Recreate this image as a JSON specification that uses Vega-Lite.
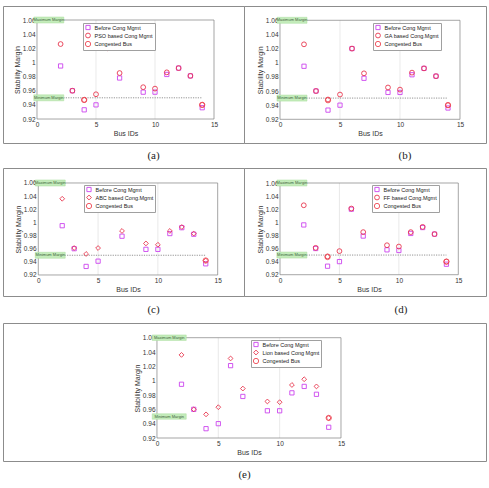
{
  "$schema": "https://vega.github.io/schema/vega-lite/v6.json",
  "padding": {"left": 2, "top": 5, "right": 0, "bottom": 0},
  "background": "white",
  "title": {"text": "IEEE 14 bus system", "orient": "bottom", "anchor": "start", "font": "Liberation Serif", "fontSize": 9, "fontWeight": "normal", "color": "#222", "offset": 2, "dx": 5},
  "config": {
    "view": {"stroke": "#8c8c8c", "strokeWidth": 1},
    "font": "Liberation Sans",
    "axis": {"domain": false, "ticks": false, "grid": false, "labelFontSize": 6.5, "titleFontSize": 7, "labelColor": "#333", "titleColor": "#333", "titleFontWeight": "normal", "labelOverlap": false, "labelFlush": false, "labelPadding": 2, "titlePadding": 2},
    "legend": {"strokeColor": "#a0a0a0", "fillColor": "#ffffff", "padding": 1.5, "labelFontSize": 5.5, "labelColor": "#222", "rowPadding": -1, "symbolStrokeWidth": 0.9, "labelOffset": 3},
    "concat": {"spacing": 0}
  },
  "datasets": {
    "grid": [{"bus": 5, "margin": 0.92, "margin2": 1.06}, {"bus": 10, "margin": 0.92, "margin2": 1.06}],
    "frame": [{"bus": 0, "bus2": 15, "margin": 0.92, "margin2": 1.06}],
    "minline": [{"bus": 0, "bus2": 14, "margin": 0.95}],
    "tags": [{"bus": 1, "margin": 1.06, "label": "Maximum Margin"}, {"bus": 1, "margin": 0.95, "label": "Minimum Margin"}],
    "a": [
      {"bus": 2, "margin": 0.995, "series": "Before Cong Mgmt"}, {"bus": 3, "margin": 0.96, "series": "Before Cong Mgmt"}, {"bus": 4, "margin": 0.933, "series": "Before Cong Mgmt"}, {"bus": 5, "margin": 0.94, "series": "Before Cong Mgmt"}, {"bus": 6, "margin": 1.02, "series": "Before Cong Mgmt"}, {"bus": 7, "margin": 0.978, "series": "Before Cong Mgmt"}, {"bus": 9, "margin": 0.958, "series": "Before Cong Mgmt"}, {"bus": 10, "margin": 0.958, "series": "Before Cong Mgmt"}, {"bus": 11, "margin": 0.983, "series": "Before Cong Mgmt"}, {"bus": 12, "margin": 0.992, "series": "Before Cong Mgmt"}, {"bus": 13, "margin": 0.981, "series": "Before Cong Mgmt"}, {"bus": 14, "margin": 0.936, "series": "Before Cong Mgmt"},
      {"bus": 2, "margin": 1.026, "series": "PSO based Cong Mgmt"}, {"bus": 3, "margin": 0.96, "series": "PSO based Cong Mgmt"}, {"bus": 4, "margin": 0.947, "series": "PSO based Cong Mgmt"}, {"bus": 5, "margin": 0.955, "series": "PSO based Cong Mgmt"}, {"bus": 6, "margin": 1.02, "series": "PSO based Cong Mgmt"}, {"bus": 7, "margin": 0.985, "series": "PSO based Cong Mgmt"}, {"bus": 9, "margin": 0.965, "series": "PSO based Cong Mgmt"}, {"bus": 10, "margin": 0.963, "series": "PSO based Cong Mgmt"}, {"bus": 11, "margin": 0.986, "series": "PSO based Cong Mgmt"}, {"bus": 12, "margin": 0.992, "series": "PSO based Cong Mgmt"}, {"bus": 13, "margin": 0.981, "series": "PSO based Cong Mgmt"}, {"bus": 14, "margin": 0.94, "series": "PSO based Cong Mgmt"},
      {"bus": 4, "margin": 0.947, "series": "Congested Bus"}, {"bus": 14, "margin": 0.94, "series": "Congested Bus"}
    ],
    "b": [
      {"bus": 2, "margin": 0.995, "series": "Before Cong Mgmt"}, {"bus": 3, "margin": 0.96, "series": "Before Cong Mgmt"}, {"bus": 4, "margin": 0.933, "series": "Before Cong Mgmt"}, {"bus": 5, "margin": 0.94, "series": "Before Cong Mgmt"}, {"bus": 6, "margin": 1.02, "series": "Before Cong Mgmt"}, {"bus": 7, "margin": 0.978, "series": "Before Cong Mgmt"}, {"bus": 9, "margin": 0.958, "series": "Before Cong Mgmt"}, {"bus": 10, "margin": 0.958, "series": "Before Cong Mgmt"}, {"bus": 11, "margin": 0.983, "series": "Before Cong Mgmt"}, {"bus": 12, "margin": 0.992, "series": "Before Cong Mgmt"}, {"bus": 13, "margin": 0.981, "series": "Before Cong Mgmt"}, {"bus": 14, "margin": 0.936, "series": "Before Cong Mgmt"},
      {"bus": 2, "margin": 1.026, "series": "GA based Cong.Mgmt"}, {"bus": 3, "margin": 0.96, "series": "GA based Cong.Mgmt"}, {"bus": 4, "margin": 0.948, "series": "GA based Cong.Mgmt"}, {"bus": 5, "margin": 0.955, "series": "GA based Cong.Mgmt"}, {"bus": 6, "margin": 1.02, "series": "GA based Cong.Mgmt"}, {"bus": 7, "margin": 0.985, "series": "GA based Cong.Mgmt"}, {"bus": 9, "margin": 0.965, "series": "GA based Cong.Mgmt"}, {"bus": 10, "margin": 0.962, "series": "GA based Cong.Mgmt"}, {"bus": 11, "margin": 0.986, "series": "GA based Cong.Mgmt"}, {"bus": 12, "margin": 0.992, "series": "GA based Cong.Mgmt"}, {"bus": 13, "margin": 0.981, "series": "GA based Cong.Mgmt"}, {"bus": 14, "margin": 0.94, "series": "GA based Cong.Mgmt"},
      {"bus": 4, "margin": 0.947, "series": "Congested Bus"}, {"bus": 14, "margin": 0.94, "series": "Congested Bus"}
    ],
    "c": [
      {"bus": 2, "margin": 0.995, "series": "Before Cong Mgmt"}, {"bus": 3, "margin": 0.96, "series": "Before Cong Mgmt"}, {"bus": 4, "margin": 0.933, "series": "Before Cong Mgmt"}, {"bus": 5, "margin": 0.941, "series": "Before Cong Mgmt"}, {"bus": 6, "margin": 1.02, "series": "Before Cong Mgmt"}, {"bus": 7, "margin": 0.979, "series": "Before Cong Mgmt"}, {"bus": 9, "margin": 0.959, "series": "Before Cong Mgmt"}, {"bus": 10, "margin": 0.959, "series": "Before Cong Mgmt"}, {"bus": 11, "margin": 0.983, "series": "Before Cong Mgmt"}, {"bus": 12, "margin": 0.992, "series": "Before Cong Mgmt"}, {"bus": 13, "margin": 0.982, "series": "Before Cong Mgmt"}, {"bus": 14, "margin": 0.937, "series": "Before Cong Mgmt"},
      {"bus": 2, "margin": 1.036, "series": "ABC based Cong.Mgmt"}, {"bus": 3, "margin": 0.961, "series": "ABC based Cong.Mgmt"}, {"bus": 4, "margin": 0.952, "series": "ABC based Cong.Mgmt"}, {"bus": 5, "margin": 0.961, "series": "ABC based Cong.Mgmt"}, {"bus": 6, "margin": 1.021, "series": "ABC based Cong.Mgmt"}, {"bus": 7, "margin": 0.987, "series": "ABC based Cong.Mgmt"}, {"bus": 9, "margin": 0.968, "series": "ABC based Cong.Mgmt"}, {"bus": 10, "margin": 0.966, "series": "ABC based Cong.Mgmt"}, {"bus": 11, "margin": 0.987, "series": "ABC based Cong.Mgmt"}, {"bus": 12, "margin": 0.993, "series": "ABC based Cong.Mgmt"}, {"bus": 13, "margin": 0.983, "series": "ABC based Cong.Mgmt"}, {"bus": 14, "margin": 0.942, "series": "ABC based Cong.Mgmt"},
      {"bus": 14, "margin": 0.942, "series": "Congested Bus"}
    ],
    "d": [
      {"bus": 2, "margin": 0.996, "series": "Before Cong Mgmt"}, {"bus": 3, "margin": 0.96, "series": "Before Cong Mgmt"}, {"bus": 4, "margin": 0.933, "series": "Before Cong Mgmt"}, {"bus": 5, "margin": 0.94, "series": "Before Cong Mgmt"}, {"bus": 6, "margin": 1.02, "series": "Before Cong Mgmt"}, {"bus": 7, "margin": 0.979, "series": "Before Cong Mgmt"}, {"bus": 9, "margin": 0.958, "series": "Before Cong Mgmt"}, {"bus": 10, "margin": 0.957, "series": "Before Cong Mgmt"}, {"bus": 11, "margin": 0.983, "series": "Before Cong Mgmt"}, {"bus": 12, "margin": 0.992, "series": "Before Cong Mgmt"}, {"bus": 13, "margin": 0.982, "series": "Before Cong Mgmt"}, {"bus": 14, "margin": 0.936, "series": "Before Cong Mgmt"},
      {"bus": 2, "margin": 1.026, "series": "FF based Cong.Mgmt"}, {"bus": 3, "margin": 0.961, "series": "FF based Cong.Mgmt"}, {"bus": 4, "margin": 0.948, "series": "FF based Cong.Mgmt"}, {"bus": 5, "margin": 0.956, "series": "FF based Cong.Mgmt"}, {"bus": 6, "margin": 1.021, "series": "FF based Cong.Mgmt"}, {"bus": 7, "margin": 0.985, "series": "FF based Cong.Mgmt"}, {"bus": 9, "margin": 0.965, "series": "FF based Cong.Mgmt"}, {"bus": 10, "margin": 0.963, "series": "FF based Cong.Mgmt"}, {"bus": 11, "margin": 0.985, "series": "FF based Cong.Mgmt"}, {"bus": 12, "margin": 0.993, "series": "FF based Cong.Mgmt"}, {"bus": 13, "margin": 0.982, "series": "FF based Cong.Mgmt"}, {"bus": 14, "margin": 0.94, "series": "FF based Cong.Mgmt"},
      {"bus": 4, "margin": 0.947, "series": "Congested Bus"}, {"bus": 14, "margin": 0.94, "series": "Congested Bus"}
    ],
    "e": [
      {"bus": 2, "margin": 0.995, "series": "Before Cong Mgmt"}, {"bus": 3, "margin": 0.96, "series": "Before Cong Mgmt"}, {"bus": 4, "margin": 0.933, "series": "Before Cong Mgmt"}, {"bus": 5, "margin": 0.94, "series": "Before Cong Mgmt"}, {"bus": 6, "margin": 1.021, "series": "Before Cong Mgmt"}, {"bus": 7, "margin": 0.978, "series": "Before Cong Mgmt"}, {"bus": 9, "margin": 0.958, "series": "Before Cong Mgmt"}, {"bus": 10, "margin": 0.958, "series": "Before Cong Mgmt"}, {"bus": 11, "margin": 0.983, "series": "Before Cong Mgmt"}, {"bus": 12, "margin": 0.992, "series": "Before Cong Mgmt"}, {"bus": 13, "margin": 0.981, "series": "Before Cong Mgmt"}, {"bus": 14, "margin": 0.935, "series": "Before Cong Mgmt"},
      {"bus": 2, "margin": 1.036, "series": "Lion based Cong Mgmt"}, {"bus": 3, "margin": 0.96, "series": "Lion based Cong Mgmt"}, {"bus": 4, "margin": 0.953, "series": "Lion based Cong Mgmt"}, {"bus": 5, "margin": 0.963, "series": "Lion based Cong Mgmt"}, {"bus": 6, "margin": 1.031, "series": "Lion based Cong Mgmt"}, {"bus": 7, "margin": 0.989, "series": "Lion based Cong Mgmt"}, {"bus": 9, "margin": 0.971, "series": "Lion based Cong Mgmt"}, {"bus": 10, "margin": 0.97, "series": "Lion based Cong Mgmt"}, {"bus": 11, "margin": 0.994, "series": "Lion based Cong Mgmt"}, {"bus": 12, "margin": 1.002, "series": "Lion based Cong Mgmt"}, {"bus": 13, "margin": 0.992, "series": "Lion based Cong Mgmt"}, {"bus": 14, "margin": 0.948, "series": "Lion based Cong Mgmt"},
      {"bus": 14, "margin": 0.948, "series": "Congested Bus"}
    ],
    "capa": [{"cap": "(a)"}], "capb": [{"cap": "(b)"}], "capc": [{"cap": "(c)"}], "capd": [{"cap": "(d)"}], "cape": [{"cap": "(e)"}]
  },
  "spacing": 0,
  "resolve": {"scale": {"x": "independent", "y": "independent", "color": "independent", "shape": "independent", "size": "independent"}, "legend": {"color": "independent", "shape": "independent", "size": "independent"}},
  "vconcat": [
    {
      "hconcat": [
        {
          "width": 241, "height": 137,
          "data": {"name": "a"},
          "encoding": {
            "x": {"field": "bus", "type": "quantitative", "scale": {"domain": [-2.881, 17.542], "nice": false, "zero": false}, "axis": {"values": [0, 5, 10, 15], "offset": -24, "title": "Bus IDs", "titleX": 122.5}},
            "y": {"field": "margin", "type": "quantitative", "scale": {"domain": [0.8861, 1.0798], "nice": false, "zero": false}, "axis": {"values": [0.92, 0.94, 0.96, 0.98, 1, 1.02, 1.04, 1.06], "format": "~g", "offset": -34, "title": "Stability Margin", "titleY": 63.5}}
          },
          "layer": [
            {"data": {"name": "grid"}, "mark": {"type": "rule", "color": "#e0e0e0", "strokeWidth": 0.7}, "encoding": {"y2": {"field": "margin2"}}},
            {"data": {"name": "frame"}, "mark": {"type": "rect", "fill": null, "stroke": "#808080", "strokeWidth": 0.7}, "encoding": {"x2": {"field": "bus2"}, "y2": {"field": "margin2"}}},
            {"data": {"name": "minline"}, "mark": {"type": "rule", "color": "#666", "strokeDash": [1.2, 1.2], "strokeWidth": 0.7}, "encoding": {"x2": {"field": "bus2"}}},
            {"mark": {"type": "point", "filled": false, "strokeWidth": 0.9, "opacity": 1},
             "encoding": {
               "color": {"field": "series", "type": "nominal", "scale": {"domain": ["Before Cong Mgmt", "PSO based Cong Mgmt", "Congested Bus"], "range": ["#cc44ee", "#e8384f", "#ee4a55"]}, "legend": {"orient": "none", "legendX": 80, "legendY": 17, "title": null}},
               "shape": {"field": "series", "type": "nominal", "scale": {"domain": ["Before Cong Mgmt", "PSO based Cong Mgmt", "Congested Bus"], "range": ["square", "circle", "circle"]}, "legend": {"orient": "none", "legendX": 80, "legendY": 17, "title": null}},
               "size": {"field": "series", "type": "ordinal", "scale": {"domain": ["Before Cong Mgmt", "PSO based Cong Mgmt", "Congested Bus"], "range": [18, 28, 100]}, "legend": {"orient": "none", "legendX": 80, "legendY": 17, "title": null}}
             }},
            {"data": {"name": "tags"}, "mark": {"type": "point", "shape": "M-1,-0.2H1V0.2H-1Z", "size": 900, "filled": true, "fill": "#c4ecbb", "stroke": "#a8dc9c", "strokeWidth": 0.5, "opacity": 1}},
            {"data": {"name": "tags"}, "mark": {"type": "text", "fontSize": 4, "color": "#3a5f3a"}, "encoding": {"text": {"field": "label"}}}
          ]
        },
        {
          "width": 242, "height": 137,
          "data": {"name": "b"},
          "encoding": {
            "x": {"field": "bus", "type": "quantitative", "scale": {"domain": [-3.0, 17.167], "nice": false, "zero": false}, "axis": {"values": [0, 5, 10, 15], "offset": -24, "title": "Bus IDs", "titleX": 126}},
            "y": {"field": "margin", "type": "quantitative", "scale": {"domain": [0.8865, 1.0802], "nice": false, "zero": false}, "axis": {"values": [0.92, 0.94, 0.96, 0.98, 1, 1.02, 1.04, 1.06], "format": "~g", "offset": -36, "title": "Stability Margin", "titleY": 63.8}}
          },
          "layer": [
            {"data": {"name": "grid"}, "mark": {"type": "rule", "color": "#e0e0e0", "strokeWidth": 0.7}, "encoding": {"y2": {"field": "margin2"}}},
            {"data": {"name": "frame"}, "mark": {"type": "rect", "fill": null, "stroke": "#808080", "strokeWidth": 0.7}, "encoding": {"x2": {"field": "bus2"}, "y2": {"field": "margin2"}}},
            {"data": {"name": "minline"}, "mark": {"type": "rule", "color": "#666", "strokeDash": [1.2, 1.2], "strokeWidth": 0.7}, "encoding": {"x2": {"field": "bus2"}}},
            {"mark": {"type": "point", "filled": false, "strokeWidth": 0.9, "opacity": 1},
             "encoding": {
               "color": {"field": "series", "type": "nominal", "scale": {"domain": ["Before Cong Mgmt", "GA based Cong.Mgmt", "Congested Bus"], "range": ["#cc44ee", "#e8384f", "#ee4a55"]}, "legend": {"orient": "none", "legendX": 129, "legendY": 17, "title": null}},
               "shape": {"field": "series", "type": "nominal", "scale": {"domain": ["Before Cong Mgmt", "GA based Cong.Mgmt", "Congested Bus"], "range": ["square", "circle", "circle"]}, "legend": {"orient": "none", "legendX": 129, "legendY": 17, "title": null}},
               "size": {"field": "series", "type": "ordinal", "scale": {"domain": ["Before Cong Mgmt", "GA based Cong.Mgmt", "Congested Bus"], "range": [18, 28, 100]}, "legend": {"orient": "none", "legendX": 129, "legendY": 17, "title": null}}
             }},
            {"data": {"name": "tags"}, "mark": {"type": "point", "shape": "M-1,-0.2H1V0.2H-1Z", "size": 900, "filled": true, "fill": "#c4ecbb", "stroke": "#a8dc9c", "strokeWidth": 0.5, "opacity": 1}},
            {"data": {"name": "tags"}, "mark": {"type": "text", "fontSize": 4, "color": "#3a5f3a"}, "encoding": {"text": {"field": "label"}}}
          ]
        }
      ],
      "spacing": 0, "bounds": "flush",
      "resolve": {"scale": {"x": "independent", "y": "independent", "color": "independent", "shape": "independent", "size": "independent"}, "legend": {"color": "independent", "shape": "independent", "size": "independent"}}
    },
    {
      "hconcat": [
        {"width": 241, "height": 23, "data": {"name": "capa"}, "mark": {"type": "text", "font": "Liberation Serif", "fontSize": 11, "color": "#222", "dx": 30}, "encoding": {"text": {"field": "cap"}}},
        {"width": 242, "height": 23, "data": {"name": "capb"}, "mark": {"type": "text", "font": "Liberation Serif", "fontSize": 11, "color": "#222", "dx": 40}, "encoding": {"text": {"field": "cap"}}}
      ],
      "spacing": 0, "bounds": "flush"
    },
    {
      "hconcat": [
        {
          "width": 241, "height": 128,
          "data": {"name": "c"},
          "encoding": {
            "x": {"field": "bus", "type": "quantitative", "scale": {"domain": [-2.95, 17.2], "nice": false, "zero": false}, "axis": {"values": [0, 5, 10, 15], "offset": -21, "title": "Bus IDs", "titleX": 125}},
            "y": {"field": "margin", "type": "quantitative", "scale": {"domain": [0.888, 1.0828], "nice": false, "zero": false}, "axis": {"values": [0.92, 0.94, 0.96, 0.98, 1, 1.02, 1.04, 1.06], "format": "~g", "offset": -35, "title": "Stability Margin", "titleY": 61}}
          },
          "layer": [
            {"data": {"name": "grid"}, "mark": {"type": "rule", "color": "#e0e0e0", "strokeWidth": 0.7}, "encoding": {"y2": {"field": "margin2"}}},
            {"data": {"name": "frame"}, "mark": {"type": "rect", "fill": null, "stroke": "#808080", "strokeWidth": 0.7}, "encoding": {"x2": {"field": "bus2"}, "y2": {"field": "margin2"}}},
            {"data": {"name": "minline"}, "mark": {"type": "rule", "color": "#666", "strokeDash": [1.2, 1.2], "strokeWidth": 0.7}, "encoding": {"x2": {"field": "bus2"}}},
            {"mark": {"type": "point", "filled": false, "strokeWidth": 0.9, "opacity": 1},
             "encoding": {
               "color": {"field": "series", "type": "nominal", "scale": {"domain": ["Before Cong Mgmt", "ABC based Cong.Mgmt", "Congested Bus"], "range": ["#cc44ee", "#e8384f", "#ee4a55"]}, "legend": {"orient": "none", "legendX": 81, "legendY": 17, "title": null}},
               "shape": {"field": "series", "type": "nominal", "scale": {"domain": ["Before Cong Mgmt", "ABC based Cong.Mgmt", "Congested Bus"], "range": ["square", "diamond", "circle"]}, "legend": {"orient": "none", "legendX": 81, "legendY": 17, "title": null}},
               "size": {"field": "series", "type": "ordinal", "scale": {"domain": ["Before Cong Mgmt", "ABC based Cong.Mgmt", "Congested Bus"], "range": [18, 28, 100]}, "legend": {"orient": "none", "legendX": 81, "legendY": 17, "title": null}}
             }},
            {"data": {"name": "tags"}, "mark": {"type": "point", "shape": "M-1,-0.2H1V0.2H-1Z", "size": 900, "filled": true, "fill": "#c4ecbb", "stroke": "#a8dc9c", "strokeWidth": 0.5, "opacity": 1}},
            {"data": {"name": "tags"}, "mark": {"type": "text", "fontSize": 4, "color": "#3a5f3a"}, "encoding": {"text": {"field": "label"}}}
          ]
        },
        {
          "width": 242, "height": 128,
          "data": {"name": "d"},
          "encoding": {
            "x": {"field": "bus", "type": "quantitative", "scale": {"domain": [-3.03, 17.33], "nice": false, "zero": false}, "axis": {"values": [0, 5, 10, 15], "offset": -21, "title": "Bus IDs", "titleX": 125}},
            "y": {"field": "margin", "type": "quantitative", "scale": {"domain": [0.8875, 1.0829], "nice": false, "zero": false}, "axis": {"values": [0.92, 0.94, 0.96, 0.98, 1, 1.02, 1.04, 1.06], "format": "~g", "offset": -36, "title": "Stability Margin", "titleY": 61}}
          },
          "layer": [
            {"data": {"name": "grid"}, "mark": {"type": "rule", "color": "#e0e0e0", "strokeWidth": 0.7}, "encoding": {"y2": {"field": "margin2"}}},
            {"data": {"name": "frame"}, "mark": {"type": "rect", "fill": null, "stroke": "#808080", "strokeWidth": 0.7}, "encoding": {"x2": {"field": "bus2"}, "y2": {"field": "margin2"}}},
            {"data": {"name": "minline"}, "mark": {"type": "rule", "color": "#666", "strokeDash": [1.2, 1.2], "strokeWidth": 0.7}, "encoding": {"x2": {"field": "bus2"}}},
            {"mark": {"type": "point", "filled": false, "strokeWidth": 0.9, "opacity": 1},
             "encoding": {
               "color": {"field": "series", "type": "nominal", "scale": {"domain": ["Before Cong Mgmt", "FF based Cong.Mgmt", "Congested Bus"], "range": ["#cc44ee", "#e8384f", "#ee4a55"]}, "legend": {"orient": "none", "legendX": 128, "legendY": 17, "title": null}},
               "shape": {"field": "series", "type": "nominal", "scale": {"domain": ["Before Cong Mgmt", "FF based Cong.Mgmt", "Congested Bus"], "range": ["square", "circle", "circle"]}, "legend": {"orient": "none", "legendX": 128, "legendY": 17, "title": null}},
               "size": {"field": "series", "type": "ordinal", "scale": {"domain": ["Before Cong Mgmt", "FF based Cong.Mgmt", "Congested Bus"], "range": [18, 28, 100]}, "legend": {"orient": "none", "legendX": 128, "legendY": 17, "title": null}}
             }},
            {"data": {"name": "tags"}, "mark": {"type": "point", "shape": "M-1,-0.2H1V0.2H-1Z", "size": 900, "filled": true, "fill": "#c4ecbb", "stroke": "#a8dc9c", "strokeWidth": 0.5, "opacity": 1}},
            {"data": {"name": "tags"}, "mark": {"type": "text", "fontSize": 4, "color": "#3a5f3a"}, "encoding": {"text": {"field": "label"}}}
          ]
        }
      ],
      "spacing": 0, "bounds": "flush",
      "resolve": {"scale": {"x": "independent", "y": "independent", "color": "independent", "shape": "independent", "size": "independent"}, "legend": {"color": "independent", "shape": "independent", "size": "independent"}}
    },
    {
      "hconcat": [
        {"width": 241, "height": 25, "data": {"name": "capc"}, "mark": {"type": "text", "font": "Liberation Serif", "fontSize": 11, "color": "#222", "dx": 30}, "encoding": {"text": {"field": "cap"}}},
        {"width": 242, "height": 25, "data": {"name": "capd"}, "mark": {"type": "text", "font": "Liberation Serif", "fontSize": 11, "color": "#222", "dx": 36}, "encoding": {"text": {"field": "cap"}}}
      ],
      "spacing": 0, "bounds": "flush"
    },
    {
      "width": 483, "height": 138,
      "data": {"name": "e"},
      "encoding": {
        "x": {"field": "bus", "type": "quantitative", "scale": {"domain": [-12.55, 26.82], "nice": false, "zero": false}, "axis": {"values": [0, 5, 10, 15], "offset": -23, "title": "Bus IDs", "titleX": 246}},
        "y": {"field": "margin", "type": "quantitative", "scale": {"domain": [0.8879, 1.0805], "nice": false, "zero": false}, "axis": {"values": [0.92, 0.94, 0.96, 0.98, 1, 1.02, 1.04, 1.06], "format": "~g", "offset": -154, "title": "Stability Margin", "titleY": 65}}
      },
      "layer": [
        {"data": {"name": "grid"}, "mark": {"type": "rule", "color": "#e0e0e0", "strokeWidth": 0.7}, "encoding": {"y2": {"field": "margin2"}}},
        {"data": {"name": "frame"}, "mark": {"type": "rect", "fill": null, "stroke": "#808080", "strokeWidth": 0.7}, "encoding": {"x2": {"field": "bus2"}, "y2": {"field": "margin2"}}},
        {"mark": {"type": "point", "filled": false, "strokeWidth": 0.9, "opacity": 1},
         "encoding": {
           "color": {"field": "series", "type": "nominal", "scale": {"domain": ["Before Cong Mgmt", "Lion based Cong Mgmt", "Congested Bus"], "range": ["#cc44ee", "#e8384f", "#ee4a55"]}, "legend": {"orient": "none", "legendX": 248, "legendY": 17, "title": null}},
           "shape": {"field": "series", "type": "nominal", "scale": {"domain": ["Before Cong Mgmt", "Lion based Cong Mgmt", "Congested Bus"], "range": ["square", "diamond", "circle"]}, "legend": {"orient": "none", "legendX": 248, "legendY": 17, "title": null}},
           "size": {"field": "series", "type": "ordinal", "scale": {"domain": ["Before Cong Mgmt", "Lion based Cong Mgmt", "Congested Bus"], "range": [18, 28, 100]}, "legend": {"orient": "none", "legendX": 248, "legendY": 17, "title": null}}
         }},
        {"data": {"name": "tags"}, "mark": {"type": "point", "shape": "M-1,-0.16H1V0.16H-1Z", "size": 1156, "filled": true, "fill": "#c4ecbb", "stroke": "#a8dc9c", "strokeWidth": 0.5, "opacity": 1}},
        {"data": {"name": "tags"}, "mark": {"type": "text", "fontSize": 4, "color": "#3a5f3a"}, "encoding": {"text": {"field": "label"}}}
      ]
    },
    {"width": 483, "height": 26, "data": {"name": "cape"}, "mark": {"type": "text", "font": "Liberation Serif", "fontSize": 11, "color": "#222"}, "encoding": {"text": {"field": "cap"}}}
  ]
}
